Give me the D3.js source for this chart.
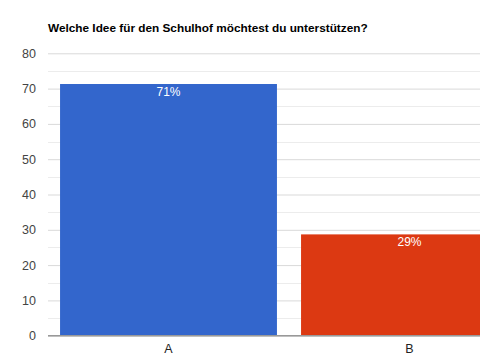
<!DOCTYPE html>
<html>
<head>
<meta charset="utf-8">
<script src="https://cdn.jsdelivr.net/npm/d3@7"></script>
<style>
  body { margin: 0; background: #fff; }
  svg { display: block; font-family: Arial, "Liberation Sans", sans-serif; }
</style>
</head>
<body>
<div class="chart"></div>
<script>
// Data
const categories = ["A", "B"];
const values = [71.3, 28.7];
const barLabels = ["71%", "29%"];
const colors = ["#3366cc", "#dc3912"];
const yTicks = [0, 10, 20, 30, 40, 50, 60, 70, 80];

const width = 480, height = 360;
const svg = d3.select(".chart")
  .append("svg")
  .attr("width", width)
  .attr("height", height);

const data = categories.map((c, i) => ({ cat: c, value: values[i], label: barLabels[i], color: colors[i] }));

// Scales
const xScale = d3.scaleBand()
  .domain(categories)
  .range([48, 530])
  .paddingInner(0.1)
  .paddingOuter(0.05);

const yScale = d3.scaleLinear()
  .domain([0, 80])
  .range([335.7, 53.3]);

// Title
svg.append("text")
  .attr("x", 48)
  .attr("y", 32)
  .attr("font-size", 11.8)
  .attr("font-weight", "bold")
  .attr("fill", "#000")
  .text("Welche Idee für den Schulhof möchtest du unterstützen?");

// Minor gridlines
const minor = d3.range(5, 80, 10);
svg.selectAll("line.minor")
  .data(minor)
  .join("line")
    .attr("class", "minor")
    .attr("x1", 48).attr("x2", width)
    .attr("y1", d => Math.round(yScale(d)) + 0.5)
    .attr("y2", d => Math.round(yScale(d)) + 0.5)
    .attr("stroke", "#ececec");

// Major gridlines via axis
const yAxis = svg.append("g")
  .attr("transform", "translate(48,0)")
  .call(d3.axisLeft(yScale).tickValues(yTicks).tickSize(-(width - 48)).tickPadding(12));
yAxis.select(".domain").remove();
yAxis.selectAll(".tick line").attr("stroke", "#d9d9d9");
yAxis.selectAll(".tick text")
  .attr("font-size", 12.5)
  .attr("fill", "#444")
  .attr("font-family", "Arial, 'Liberation Sans', sans-serif");

// Bars
svg.selectAll("rect.bar")
  .data(data)
  .join("rect")
    .attr("class", "bar")
    .attr("x", d => xScale(d.cat))
    .attr("y", d => yScale(d.value))
    .attr("width", xScale.bandwidth())
    .attr("height", d => yScale(0) - yScale(d.value))
    .attr("fill", d => d.color);

// Bar labels
svg.selectAll("text.barlabel")
  .data(data)
  .join("text")
    .attr("class", "barlabel")
    .attr("x", d => xScale(d.cat) + xScale.bandwidth() / 2)
    .attr("y", d => yScale(d.value) + 12)
    .attr("text-anchor", "middle")
    .attr("font-size", 12)
    .attr("fill", "#fff")
    .text(d => d.label);

// Baseline
svg.append("line")
  .attr("x1", 48).attr("x2", width)
  .attr("y1", yScale(0)).attr("y2", yScale(0))
  .attr("stroke", "#999")
  .attr("stroke-width", 1.5);

// X axis labels
const xAxis = svg.append("g")
  .attr("transform", `translate(0,${yScale(0)})`)
  .call(d3.axisBottom(xScale).tickSize(0).tickPadding(8));
xAxis.select(".domain").remove();
xAxis.selectAll(".tick text")
  .attr("font-size", 12.5)
  .attr("fill", "#222")
  .attr("font-family", "Arial, 'Liberation Sans', sans-serif");
</script>
</body>
</html>
